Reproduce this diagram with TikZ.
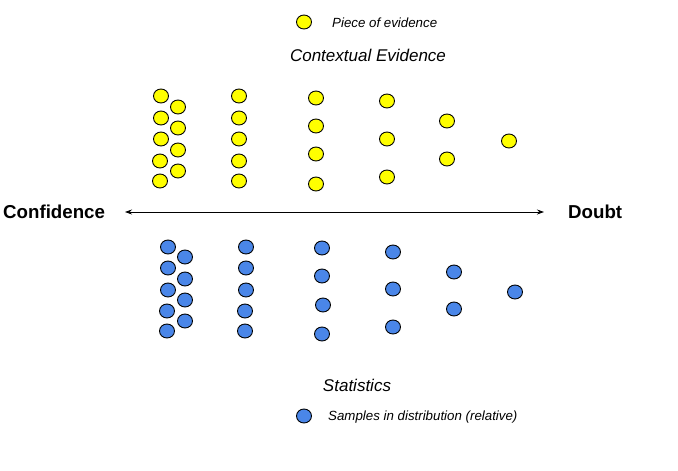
\documentclass[tikz,border=0pt]{standalone}
\usepackage{fontspec}
\setmainfont{Liberation Sans}
\usetikzlibrary{shapes.geometric,arrows.meta}
\definecolor{evyellow}{HTML}{FFFF00}
\definecolor{stblue}{HTML}{4A86E8}
\tikzset{
  dot/.style={ellipse,draw=black,line width=0.9pt,inner sep=0pt,minimum width=15pt,minimum height=14pt},
  ydot/.style={dot,fill=evyellow},
  bdot/.style={dot,fill=stblue},
  lbl/.style={inner sep=0pt,font=\fontsize{13.3}{15}\selectfont\itshape,anchor=west},
  title/.style={inner sep=0pt,font=\fontsize{17}{20}\selectfont\itshape},
  pole/.style={inner sep=0pt,font=\fontsize{18.7}{22}\selectfont\bfseries}
}
\begin{document}
\begin{tikzpicture}[x=1pt,y=-1pt]
\useasboundingbox (0,0) rectangle (678,471);
% legend top
\node[ydot] (ly) at (304,22) {};
\node[lbl] (lyt) at (332,22.5) {Piece of evidence};
\node[title] (ctx) at (368,55) {Contextual Evidence};
% yellow dots
\foreach \x/\y [count=\i] in {161/96,161/118,161/139,160/161,160/181,
  178/107,178/128,178/150,178/171,
  239/96,239/118,239/139,239/161,239/181,
  316/98,316/126,316/154,316/184,
  387/101,387/139,387/177,
  447/121,447/159,
  509/141}
  \node[ydot] (y\i) at (\x,\y) {};
% axis
\node[pole,anchor=west] (conf) at (3,212) {Confidence};
\node[pole,anchor=west] (doubt) at (568,212) {Doubt};
\coordinate (al) at (125,212);
\coordinate (ar) at (544,212);
\draw[line width=0.8pt,{Stealth[length=7pt,width=5pt]}-{Stealth[length=7pt,width=5pt]}] (al) -- (ar);
% blue dots
\foreach \x/\y [count=\i] in {168/247,168/268,168/290,167/311,167/331,
  185/257,185/279,185/300,185/321,
  246/247,246/268,246/290,245/311,245/331,
  322/248,322/276,323/305,322/334,
  393/252,393/289,393/327,
  454/272,454/309,
  515/292}
  \node[bdot] (b\i) at (\x,\y) {};
% bottom
\node[title] (stat) at (357,385) {Statistics};
\node[bdot] (lb) at (304,416) {};
\node[lbl] (lbt) at (328,417) {Samples in distribution (relative)};
\end{tikzpicture}
\end{document}
